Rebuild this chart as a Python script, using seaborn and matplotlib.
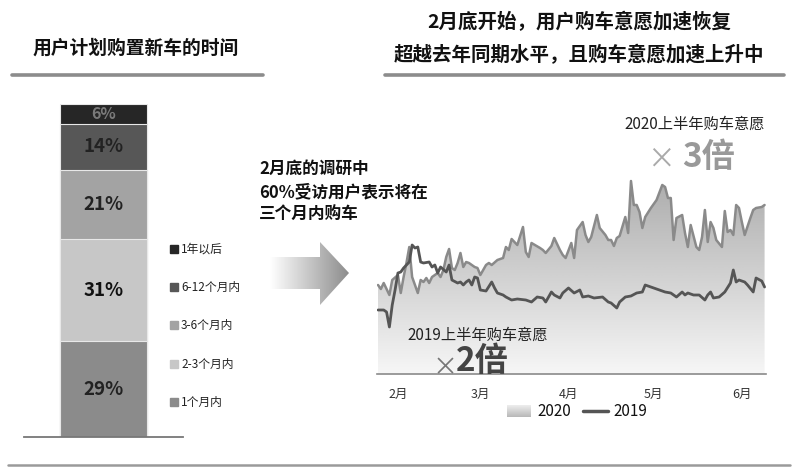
import numpy as np
import pandas as pd
import matplotlib
matplotlib.use("Agg")
import matplotlib.pyplot as plt
import seaborn as sns
from matplotlib.patches import Polygon
from matplotlib.lines import Line2D

sns.set_theme(style="white")
plt.rcParams['font.family'] = ['Noto Sans CJK SC', 'DejaVu Sans']
plt.rcParams['axes.unicode_minus'] = False

# ---------------- data ----------------
left_title = "用户计划购置新车的时间"
right_title = ["2月底开始，用户购车意愿加速恢复", "超越去年同期水平，且购车意愿加速上升中"]
note_lines = ["2月底的调研中", "60%受访用户表示将在", "三个月内购车"]

plan_categories = ["1个月内", "2-3个月内", "3-6个月内", "6-12个月内", "1年以后"]
plan_shares = [29, 31, 21, 14, 6]
plan_colors = ["#8b8b8b", "#c7c7c7", "#a3a3a3", "#575757", "#262626"]
plan_label_colors = ["#222222", "#111111", "#222222", "#222222", "#7a7a7a"]

start_date = "2020-01-25"
month_starts = ["2020-02-01", "2020-03-01", "2020-04-01", "2020-05-01", "2020-06-01"]
month_labels = ["2月", "3月", "4月", "5月", "6月"]

days_2020 = [0, 1, 2, 4, 5, 7, 8, 9, 10, 11, 12, 14, 15, 16, 17, 18, 19, 21, 22, 23,
             24, 25, 26, 27, 28, 29, 30, 31, 32, 34, 35, 36, 38, 39, 40, 42, 44, 45, 46, 47,
             49, 51, 52, 53, 54, 57, 58, 59, 61, 62, 64, 65, 66, 68, 69, 70, 72, 73, 74, 75,
             77, 78, 80, 81, 82, 83, 84, 85, 87, 88, 89, 90, 91, 92, 93, 94, 96, 98, 100, 101,
             102, 103, 104, 105, 107, 108, 109, 110, 112, 113, 114, 115, 116, 117, 118, 119, 121, 122, 123, 124,
             125, 126, 127, 128, 129, 131, 132, 133, 135, 136]
intent_2020 = [89, 85, 91, 79, 94, 99, 81, 97, 111, 127, 97, 81, 94, 92, 96, 91, 97, 101, 97, 104,
               117, 125, 106, 104, 111, 121, 107, 112, 111, 107, 106, 99, 109, 111, 109, 114, 116, 127, 124, 135,
               129, 147, 122, 117, 131, 126, 124, 121, 128, 136, 124, 119, 116, 131, 116, 144, 152, 139, 132, 137,
               159, 146, 139, 134, 134, 128, 136, 138, 157, 141, 193, 169, 169, 162, 146, 157, 166, 174, 189, 187,
               176, 176, 134, 156, 159, 141, 127, 149, 127, 124, 137, 164, 132, 152, 146, 134, 127, 163, 142, 144,
               139, 169, 166, 152, 139, 156, 164, 166, 167, 169]

days_2019 = [0, 2, 3, 4, 5, 6, 7, 8, 9, 11, 12, 13, 14, 15, 16, 18, 19, 20, 21, 22,
             24, 25, 26, 28, 29, 30, 31, 32, 33, 34, 35, 36, 38, 40, 41, 42, 44, 45, 47, 49,
             52, 54, 56, 58, 59, 61, 62, 64, 65, 67, 69, 71, 72, 74, 76, 79, 81, 82, 84, 85,
             87, 89, 91, 93, 94, 96, 98, 101, 103, 105, 107, 108, 109, 111, 113, 115, 116, 117, 118, 120,
             122, 124, 125, 126, 127, 129, 130, 132, 133, 135, 136]
intent_2019 = [64, 64, 62, 47, 69, 84, 101, 102, 106, 112, 129, 126, 127, 112, 111, 112, 107, 109, 101, 107,
               102, 109, 94, 91, 92, 89, 92, 94, 89, 97, 96, 84, 83, 92, 86, 81, 79, 77, 74, 75,
               74, 72, 77, 76, 72, 82, 79, 76, 81, 86, 81, 84, 77, 78, 76, 77, 72, 71, 66, 72,
               77, 78, 81, 82, 89, 87, 85, 82, 81, 77, 82, 79, 81, 79, 79, 74, 79, 82, 76, 77,
               82, 91, 104, 92, 94, 92, 89, 82, 96, 93, 87]

series_labels = ["2020", "2019"]
anno_2020 = ["2020上半年购车意愿", "×", "3倍"]
anno_2019 = ["2019上半年购车意愿", "×", "2倍"]

# ---------------- figure ----------------
W, H = 800, 467
fig = plt.figure(figsize=(W / 100, H / 100), dpi=100)
fig.patch.set_facecolor("white")


def fx(x):
    return x / W


def fy(y):
    return 1 - y / H


def rect(x0, y0, x1, y1):
    return [fx(x0), fy(y1), fx(x1) - fx(x0), fy(y0) - fy(y1)]


# titles and rules
fig.text(fx(136), fy(48), left_title, ha="center", va="center", fontsize=13.5,
         fontweight="bold", color="#111111")
fig.add_artist(Line2D([fx(12), fx(263)], [fy(75), fy(75)], color="#8c8c8c", lw=2.6,
                      transform=fig.transFigure))
fig.text(fx(579), fy(22), right_title[0], ha="center", va="center", fontsize=14,
         fontweight="bold", color="#111111")
fig.text(fx(579), fy(55), right_title[1], ha="center", va="center", fontsize=14,
         fontweight="bold", color="#111111")
fig.add_artist(Line2D([fx(385), fx(784)], [fy(75), fy(75)], color="#8c8c8c", lw=2.6,
                      transform=fig.transFigure))
fig.add_artist(Line2D([fx(8), fx(790)], [fy(465), fy(465)], color="#9a9a9a", lw=1.8,
                      transform=fig.transFigure))

# ---------------- stacked bar ----------------
axb = fig.add_axes(rect(24, 104, 183, 437))
cum = np.cumsum(plan_shares)
for i in reversed(range(len(plan_shares))):
    sns.barplot(x=["plan"], y=[cum[i]], color=plan_colors[i], width=0.547,
                edgecolor="#e8e8e8", linewidth=0.8, saturation=1, ax=axb)
axb.set_xlim(-0.5, 0.5)
axb.set_ylim(0, cum[-1])
axb.set_xticks([])
axb.set_yticks([])
axb.set_xlabel("")
axb.set_ylabel("")
for s in ["top", "left", "right"]:
    axb.spines[s].set_visible(False)
axb.spines["bottom"].set_color("#777777")
axb.spines["bottom"].set_linewidth(1.3)
axb.patch.set_alpha(0)
bottoms = np.concatenate([[0], cum[:-1]])
for i, v in enumerate(plan_shares):
    axb.text(0, bottoms[i] + v / 2, f"{v}%", ha="center", va="center",
             fontsize=13.5 if v > 6 else 11.5, fontweight="bold", color=plan_label_colors[i])

# legend for bar (top to bottom: reverse order)
leg_y = [249, 287, 325, 364, 402]
for k, i in enumerate(reversed(range(len(plan_categories)))):
    y = leg_y[k]
    fig.add_artist(Line2D([fx(173.5)], [fy(y)], marker="s", markersize=5.2, ls="",
                          color=plan_colors[i], transform=fig.transFigure))
    fig.text(fx(181), fy(y), plan_categories[i], ha="left", va="center",
             fontsize=8.5, color="#222222")

# note text
for k, t in enumerate(note_lines):
    fig.text(fx(259), fy(169 + 23 * k), t, ha="left", va="center", fontsize=12,
             fontweight="bold", color="#111111")

# arrow with gradient
axa = fig.add_axes(rect(266, 238, 354, 310))
axa.set_xlim(266, 354)
axa.set_ylim(310, 238)
axa.axis("off")
arrow = Polygon([(270, 257), (320, 257), (320, 242), (349, 273), (320, 305), (320, 289), (270, 289)],
                closed=True, facecolor="none", edgecolor="none")
axa.add_patch(arrow)
grad_h = np.linspace(1.0, 0.55, 256).reshape(1, -1)
im = axa.imshow(grad_h, extent=[270, 349, 310, 238], cmap="gray", vmin=0, vmax=1,
                aspect="auto", interpolation="bicubic")
im.set_clip_path(arrow)
axa.set_xlim(266, 354)
axa.set_ylim(310, 238)

# ---------------- line chart ----------------
ax = fig.add_axes(rect(376.6, 170, 766, 374))
base = pd.Timestamp(start_date)
tick_pos = [(pd.Timestamp(d) - base).days for d in month_starts]

fill = ax.fill_between(days_2020, intent_2020, 0, facecolor="none", edgecolor="none")
grad_v = np.linspace(0.965, 0.66, 256).reshape(-1, 1)
imv = ax.imshow(grad_v, extent=[-0.5, 136.5, 0, 204], origin="lower", cmap="gray",
                vmin=0, vmax=1, aspect="auto", zorder=1, interpolation="bicubic")
imv.set_clip_path(fill.get_paths()[0], transform=ax.transData)

sns.lineplot(x=days_2020, y=intent_2020, color="#8a8a8a", lw=1.8, ax=ax, zorder=3)
sns.lineplot(x=days_2019, y=intent_2019, color="#555555", lw=2.0, ax=ax, zorder=4)

ax.set_xlim(-0.5, 136.5)
ax.set_ylim(0, 204)
ax.set_yticks([])
ax.set_xticks(tick_pos)
ax.set_xticklabels(month_labels)
ax.tick_params(axis="x", length=0, pad=10, labelsize=9, labelcolor="#333333")
ax.set_xlabel("")
ax.set_ylabel("")
for s in ["top", "left", "right"]:
    ax.spines[s].set_visible(False)
ax.spines["bottom"].set_color("#8a8a8a")
ax.spines["bottom"].set_linewidth(1.2)
ax.patch.set_alpha(0)

# annotations
fig.text(fx(765), fy(124), anno_2020[0], ha="right", va="center", fontsize=11, color="#222222")
fig.text(fx(661), fy(160), anno_2020[1], ha="center", va="center", fontsize=20, color="#aaaaaa")
fig.text(fx(682), fy(157), anno_2020[2], ha="left", va="center", fontsize=24,
         fontweight="bold", color="#999999")
fig.text(fx(407), fy(335), anno_2019[0], ha="left", va="center", fontsize=11, color="#222222")
fig.text(fx(445), fy(368), anno_2019[1], ha="center", va="center", fontsize=18, color="#777777")
fig.text(fx(456), fy(361), anno_2019[2], ha="left", va="center", fontsize=24,
         fontweight="bold", color="#444444")

# legend for line chart
axs = fig.add_axes(rect(507, 405, 531, 417))
axs.imshow(np.linspace(0.93, 0.72, 64).reshape(-1, 1), cmap="gray", vmin=0, vmax=1,
           aspect="auto", extent=[0, 1, 0, 1])
axs.axis("off")
fig.text(fx(537), fy(411), series_labels[0], ha="left", va="center", fontsize=11, color="#111111")
fig.add_artist(Line2D([fx(583), fx(608)], [fy(411), fy(411)], color="#555555", lw=2.5,
                      transform=fig.transFigure))
fig.text(fx(613), fy(411), series_labels[1], ha="left", va="center", fontsize=11, color="#111111")

fig.savefig("out.png", dpi=100, facecolor="white")
